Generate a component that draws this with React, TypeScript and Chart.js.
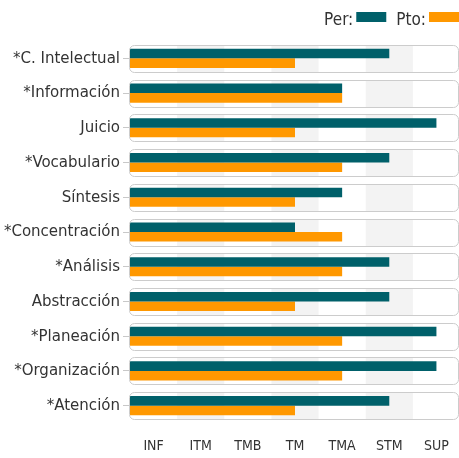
import React, { useEffect, useRef } from "react";
import { Chart, registerables } from "chart.js";

Chart.register(...registerables);

const categories = [
  "*C. Intelectual",
  "*Información",
  "Juicio",
  "*Vocabulario",
  "Síntesis",
  "*Concentración",
  "*Análisis",
  "Abstracción",
  "*Planeación",
  "*Organización",
  "*Atención",
];

// 1=INF ... 7=SUP
const perValues = [6, 5, 7, 6, 5, 4, 6, 6, 7, 7, 6];
const ptoValues = [4, 5, 4, 5, 4, 5, 5, 4, 5, 5, 4];

const levelLabels = ["INF", "ITM", "TMB", "TM", "TMA", "STM", "SUP"];

const seriesNames = ["Per:", "Pto:"];
const seriesColors = ["#00606a", "#ff9800"];

const FONT = "'DejaVu Sans Condensed', 'DejaVu Sans', sans-serif";

const BOX_RIGHT = 458.5;
const BOX_H = 27;

const boxesPlugin = {
  id: "rowBoxes",
  beforeDatasetsDraw(chart: any) {
    const { ctx, chartArea, scales } = chart;
    const y = scales.y;
    const x = scales.x;
    const left = chartArea.left - 0.5;
    ctx.save();
    for (let i = 0; i < categories.length; i++) {
      const cy = y.getPixelForValue(i);
      const top = Math.round(cy - BOX_H / 2) + 0.5;
      ctx.beginPath();
      ctx.roundRect(left, top, BOX_RIGHT - left, BOX_H, 5);
      ctx.fillStyle = "#ffffff";
      ctx.fill();
      ctx.save();
      ctx.clip();
      ctx.fillStyle = "#f3f3f3";
      for (let k = 2; k <= levelLabels.length; k += 2) {
        const x0 = x.getPixelForValue(k - 0.5);
        const x1 = x.getPixelForValue(k + 0.5);
        ctx.fillRect(x0, top, x1 - x0, BOX_H);
      }
      ctx.restore();
    }
    ctx.restore();
  },
  afterDatasetsDraw(chart: any) {
    const { ctx, chartArea, scales } = chart;
    const y = scales.y;
    const left = chartArea.left - 0.5;
    ctx.save();
    ctx.strokeStyle = "#cccccc";
    ctx.lineWidth = 1;
    for (let i = 0; i < categories.length; i++) {
      const cy = y.getPixelForValue(i);
      const top = Math.round(cy - BOX_H / 2) + 0.5;
      ctx.beginPath();
      ctx.roundRect(left, top, BOX_RIGHT - left, BOX_H, 5);
      ctx.stroke();
    }
    ctx.restore();
  },
  afterDraw(chart: any) {
    const { ctx } = chart;
    ctx.save();
    ctx.font = "17px " + FONT;
    ctx.textBaseline = "alphabetic";
    const boxW = 30;
    const boxH = 10;
    const boxTop = 12;
    const baseline = 25;
    let xr = 459;
    const items = seriesNames.map((n, i) => ({ n, c: seriesColors[i] })).reverse();
    for (const it of items) {
      const bx = xr - boxW;
      ctx.fillStyle = it.c;
      ctx.fillRect(bx, boxTop, boxW, boxH);
      const tw = ctx.measureText(it.n).width;
      ctx.fillStyle = "#333333";
      ctx.fillText(it.n, bx - 3 - tw, baseline);
      xr = bx - 3 - tw - 10;
    }
    ctx.restore();
  },
};

export default function App() {
  const ref = useRef<HTMLCanvasElement | null>(null);

  useEffect(() => {
    const canvas = ref.current;
    if (!canvas) return;
    const chart = new Chart(canvas, {
      type: "bar",
      data: {
        labels: categories,
        datasets: [
          {
            label: seriesNames[0],
            data: perValues,
            backgroundColor: seriesColors[0],
            barPercentage: 1,
            categoryPercentage: 0.55,
          },
          {
            label: seriesNames[1],
            data: ptoValues,
            backgroundColor: seriesColors[1],
            barPercentage: 1,
            categoryPercentage: 0.55,
          },
        ],
      },
      options: {
        indexAxis: "y",
        animation: false,
        responsive: false,
        devicePixelRatio: 1,
        layout: { padding: { top: 41, right: 0, left: 0, bottom: 0 } },
        plugins: {
          legend: { display: false },
          tooltip: { enabled: false },
        },
        scales: {
          x: {
            type: "linear",
            min: 0.5,
            max: 7.5,
            afterBuildTicks: (scale: any) => {
              scale.ticks = levelLabels.map((_, i) => ({ value: i + 1 }));
            },
            afterFit: (scale: any) => {
              scale.height = 35;
              scale.paddingLeft = 0;
              scale.paddingRight = 0;
            },
            grid: { display: false, drawTicks: false },
            border: { display: false },
            ticks: {
              autoSkip: false,
              maxRotation: 0,
              padding: 15,
              color: "#333333",
              font: { family: FONT, size: 14 },
              callback: (v: any) => levelLabels[Math.round(Number(v)) - 1] ?? "",
            },
          },
          y: {
            type: "category",
            offset: true,
            afterFit: (scale: any) => {
              scale.width = 130;
            },
            grid: {
              offset: false,
              drawOnChartArea: false,
              drawTicks: true,
              tickLength: 7,
              color: "#c8c8c8",
            },
            border: { display: false },
            ticks: {
              padding: 3,
              color: "#333333",
              font: { family: FONT, size: 16.7 },
            },
          },
        },
      },
      plugins: [boxesPlugin],
    });
    return () => chart.destroy();
  }, []);

  return (
    <div
      style={{
        position: "absolute",
        left: 0,
        top: 0,
        width: 459,
        height: 458,
        overflow: "hidden",
        background: "#fff",
      }}
    >
      <canvas ref={ref} width={460} height={458} style={{ display: "block" }} />
    </div>
  );
}
